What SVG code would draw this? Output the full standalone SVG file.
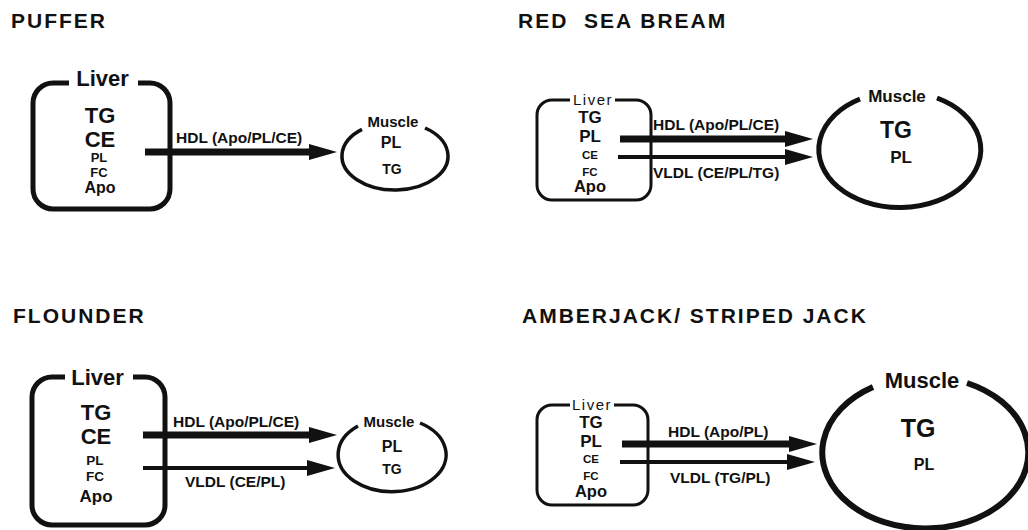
<svg xmlns="http://www.w3.org/2000/svg" width="1028" height="530" viewBox="0 0 1028 530">
  <style>
    text { font-family: "Liberation Sans", Arial, Helvetica, sans-serif; fill: #111; font-weight: bold; }
    .title { font-size: 21px; letter-spacing: 2px; }
    .mid { text-anchor: middle; }
    .lbl { font-size: 15.5px; }
    .thickbox { fill: none; stroke: #111; stroke-width: 5; stroke-linejoin: round; }
    .thinbox { fill: none; stroke: #111; stroke-width: 3; stroke-linejoin: round; }
    .hdl { stroke: #111; stroke-width: 7; fill: none; }
    .vldl { stroke: #111; stroke-width: 4; fill: none; }
    .lite { font-weight: normal; letter-spacing: 1.5px; }
  </style>
  <defs>
    <marker id="ah" markerUnits="userSpaceOnUse" viewBox="0 0 28 16" markerWidth="28" markerHeight="16" refX="8" refY="8" orient="auto">
      <path d="M0,0 L28,8 L0,16 Z" fill="#111"/>
    </marker>
  </defs>
  <rect width="1028" height="530" fill="#fff"/>

  <!-- Titles -->
  <g id="title-puffer"><text class="title" x="11" y="28">PUFFER</text></g>
  <g id="title-rsb"><text class="title" x="518" y="28" xml:space="preserve">RED  SEA BREAM</text></g>
  <g id="title-flounder"><text class="title" x="13" y="323">FLOUNDER</text></g>
  <g id="title-amberjack"><text class="title" x="522" y="323">AMBERJACK/ STRIPED JACK</text></g>

  <!-- PUFFER -->
  <g id="puffer-liver">
    <path class="thickbox" d="M138,83 L150,83 A20,20 0 0 1 170,103 L170,189 A20,20 0 0 1 150,209 L53,209 A20,20 0 0 1 33,189 L33,103 A20,20 0 0 1 53,83 L69,83"/>
    <text class="mid" x="102.5" y="86" font-size="22">Liver</text>
    <text class="mid" x="100" y="123" font-size="22">TG</text>
    <text class="mid" x="100" y="147" font-size="22">CE</text>
    <text class="mid" x="99" y="162" font-size="13">PL</text>
    <text class="mid" x="99" y="177" font-size="13">FC</text>
    <text class="mid" x="100" y="193" font-size="16">Apo</text>
  </g>
  <g id="puffer-muscle">
    <path d="M425,128 A53,34 0 1 1 362,129.4" fill="none" stroke="#111" stroke-width="3.5"/>
    <text class="mid" x="393" y="127" font-size="15">Muscle</text>
    <text class="mid" x="391" y="148" font-size="16">PL</text>
    <text class="mid" x="392" y="174" font-size="14">TG</text>
  </g>

  <!-- RED SEA BREAM -->
  <g id="rsb-liver">
    <path class="thinbox" d="M615,100 L636,100 A15,15 0 0 1 651,115 L651,185 A15,15 0 0 1 636,200 L552,200 A15,15 0 0 1 537,185 L537,115 A15,15 0 0 1 552,100 L570,100"/>
    <text class="mid lite" x="593" y="105" font-size="15">Liver</text>
    <text class="mid" x="590" y="123" font-size="17">TG</text>
    <text class="mid" x="590" y="142" font-size="17">PL</text>
    <text class="mid" x="590" y="159" font-size="11.5">CE</text>
    <text class="mid" x="590" y="176" font-size="11.5">FC</text>
    <text class="mid" x="590" y="192" font-size="16.5">Apo</text>
  </g>
  <g id="rsb-muscle">
    <path d="M937,98 A81,58 0 1 1 860,99" fill="none" stroke="#111" stroke-width="5"/>
    <text class="mid" x="897" y="102" font-size="17">Muscle</text>
    <text class="mid" x="896" y="138" font-size="23">TG</text>
    <text class="mid" x="901" y="163" font-size="17">PL</text>
  </g>

  <!-- FLOUNDER -->
  <g id="flounder-liver">
    <path class="thickbox" d="M133,377 L145,377 A20,20 0 0 1 165,397 L165,505 A20,20 0 0 1 145,525 L52,525 A20,20 0 0 1 32,505 L32,397 A20,20 0 0 1 52,377 L65,377"/>
    <text class="mid" x="97.5" y="385" font-size="22">Liver</text>
    <text class="mid" x="96" y="420" font-size="22">TG</text>
    <text class="mid" x="96" y="444" font-size="22">CE</text>
    <text class="mid" x="95" y="465" font-size="13.5">PL</text>
    <text class="mid" x="95" y="481" font-size="13.5">FC</text>
    <text class="mid" x="96" y="502" font-size="17">Apo</text>
  </g>
  <g id="flounder-muscle">
    <path d="M420,423 A54,37 0 1 1 358,426" fill="none" stroke="#111" stroke-width="3.5"/>
    <text class="mid" x="389" y="427" font-size="15">Muscle</text>
    <text class="mid" x="392" y="452" font-size="16">PL</text>
    <text class="mid" x="392" y="474" font-size="14">TG</text>
  </g>

  <!-- AMBERJACK / STRIPED JACK -->
  <g id="aj-liver">
    <path class="thinbox" d="M614,405 L633,405 A15,15 0 0 1 648,420 L648,490 A15,15 0 0 1 633,505 L552,505 A15,15 0 0 1 537,490 L537,420 A15,15 0 0 1 552,405 L570,405"/>
    <text class="mid lite" x="592" y="410" font-size="15">Liver</text>
    <text class="mid" x="591" y="428" font-size="17">TG</text>
    <text class="mid" x="591" y="447" font-size="17">PL</text>
    <text class="mid" x="591" y="463" font-size="11.5">CE</text>
    <text class="mid" x="591" y="480" font-size="11.5">FC</text>
    <text class="mid" x="591" y="497" font-size="16.5">Apo</text>
  </g>
  <g id="aj-muscle">
    <path d="M967,383 A103,76 0 1 1 873,387" fill="none" stroke="#111" stroke-width="6"/>
    <text class="mid" x="922" y="388" font-size="22">Muscle</text>
    <text class="mid" x="918" y="437" font-size="25">TG</text>
    <text class="mid" x="924" y="470" font-size="16">PL</text>
  </g>

  <!-- Connectors -->
  <g id="connectors">
    <line class="hdl" x1="145" y1="152" x2="317" y2="152" marker-end="url(#ah)"/>
    <text class="lbl" x="176" y="143">HDL (Apo/PL/CE)</text>

    <line class="hdl" x1="620" y1="139" x2="793" y2="139" marker-end="url(#ah)"/>
    <text class="lbl" x="653" y="130">HDL (Apo/PL/CE)</text>
    <line class="vldl" x1="618" y1="157" x2="793" y2="157" marker-end="url(#ah)"/>
    <text class="lbl" x="653" y="178">VLDL (CE/PL/TG)</text>

    <line class="hdl" x1="143" y1="435" x2="317" y2="435" marker-end="url(#ah)"/>
    <text class="lbl" x="173" y="427">HDL (Apo/PL/CE)</text>
    <line class="vldl" x1="143" y1="468" x2="315" y2="468" marker-end="url(#ah)"/>
    <text class="lbl" x="185" y="487">VLDL (CE/PL)</text>

    <line class="hdl" x1="622" y1="444" x2="797" y2="444" marker-end="url(#ah)"/>
    <text class="lbl" x="668" y="437">HDL (Apo/PL)</text>
    <line class="vldl" x1="620" y1="462" x2="795" y2="462" marker-end="url(#ah)"/>
    <text class="lbl" x="670" y="483">VLDL (TG/PL)</text>
  </g>
</svg>
